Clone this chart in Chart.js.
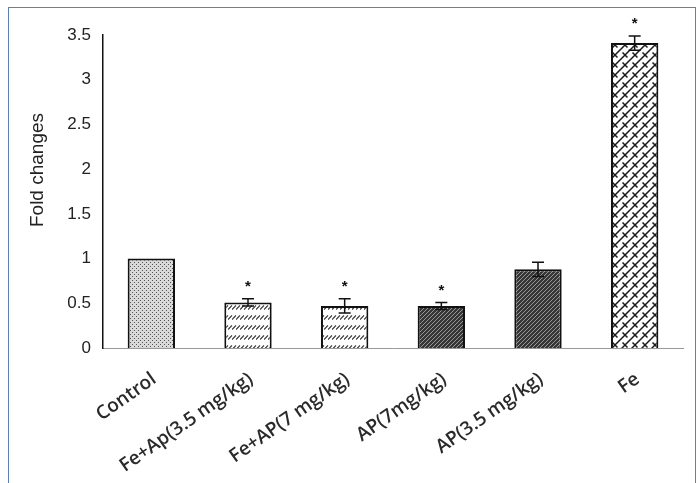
<!DOCTYPE html>
<html>
<head>
<meta charset="utf-8">
<script src="https://cdn.jsdelivr.net/npm/chart.js@4.4.1/dist/chart.umd.min.js"></script>
<style>
  html, body { margin: 0; padding: 0; background: #fff; }
  #wrap { position: relative; width: 699px; height: 483px; overflow: hidden; }
  #frame { position: absolute; left: 8px; top: 7px; width: 688px; height: 520px;
           border: 1.5px solid #5b7fc4; box-sizing: border-box; }
  #box { position: absolute; left: 0; top: 0; width: 699px; height: 483px; }
</style>
</head>
<body>
<div id="wrap">
  <div id="frame"></div>
  <div id="box"><canvas id="fold_chart"></canvas></div>
</div>
<script>
/*数据*/
var categories = ['Control', 'Fe+Ap(3.5 mg/kg)', 'Fe+AP(7 mg/kg)', 'AP(7mg/kg)', 'AP(3.5 mg/kg)', 'Fe'];
var fold_values = [1.0, 0.51, 0.47, 0.47, 0.88, 3.41];
var fold_errors = [0, 0.04, 0.08, 0.04, 0.08, 0.08];
var significant = [false, true, true, true, false, true];
var y_ticks = [0, 0.5, 1, 1.5, 2, 2.5, 3, 3.5];
var y_title = 'Fold changes';

/*填充图案*/
function make_pattern(w, h, draw) {
    var c = document.createElement('canvas');
    c.width = w; c.height = h;
    var x = c.getContext('2d');
    draw(x, w, h);
    return x.createPattern(c, 'repeat');
}
// 点状
var dots = make_pattern(4, 4, function(x, w, h) {
    x.fillStyle = '#d9d9d9'; x.fillRect(0, 0, w, h);
    x.fillStyle = '#555';
    x.fillRect(0, 0, 1, 1); x.fillRect(2, 2, 1, 1);
});
// 横带斜纹
var bands = make_pattern(4, 10, function(x, w, h) {
    x.fillStyle = '#ffffff'; x.fillRect(0, 0, w, h);
    x.strokeStyle = '#333'; x.lineWidth = 1.2;
    x.beginPath();
    x.moveTo(0, 9.5); x.lineTo(4, 5.5);
    x.moveTo(-4, 9.5); x.lineTo(0, 5.5);
    x.stroke();
});
// 深色斜纹
var dark = make_pattern(4, 4, function(x, w, h) {
    x.fillStyle = '#363636'; x.fillRect(0, 0, w, h);
    x.strokeStyle = '#b0b0b0'; x.lineWidth = 0.8;
    x.beginPath();
    x.moveTo(-1, 5); x.lineTo(5, -1);
    x.stroke();
});
// 编织纹
var weave = make_pattern(10, 10, function(x, w, h) {
    x.fillStyle = '#ffffff'; x.fillRect(0, 0, w, h);
    x.strokeStyle = '#1a1a1a'; x.lineWidth = 1.5;
    x.beginPath();
    x.moveTo(0, 10); x.lineTo(10, 0);
    x.moveTo(-5, 5); x.lineTo(5, -5);
    x.moveTo(5, 15); x.lineTo(15, 5);
    x.moveTo(2.5, 2.5); x.lineTo(7.5, 7.5);
    x.stroke();
});
var fills = [dots, bands, bands, dark, dark, weave];

/*误差线、星号、纵轴标题*/
var errorBars = {
    id: 'errorBars',
    afterDatasetsDraw: function(chart) {
        var ctx = chart.ctx;
        var ys = chart.scales.y;
        var meta = chart.getDatasetMeta(0);
        ctx.save();
        for (var i = 0; i < fold_values.length; i++) {
            var xp = meta.data[i].x;
            var top = ys.getPixelForValue(fold_values[i] + fold_errors[i]);
            var bot = ys.getPixelForValue(fold_values[i] - fold_errors[i]);
            if (fold_errors[i] > 0) {
                ctx.beginPath();
                ctx.strokeStyle = '#111';
                ctx.lineWidth = 1.5;
                ctx.moveTo(xp, top); ctx.lineTo(xp, bot);
                ctx.moveTo(xp - 6, top); ctx.lineTo(xp + 6, top);
                ctx.moveTo(xp - 6, bot); ctx.lineTo(xp + 6, bot);
                ctx.stroke();
            }
            if (significant[i]) {
                ctx.fillStyle = '#111';
                ctx.font = 'bold 15px "Liberation Sans", Arial';
                ctx.textAlign = 'center';
                ctx.textBaseline = 'middle';
                ctx.fillText('*', xp, top - 12);
            }
        }
        // 纵轴标题
        ctx.translate(38, 170);
        ctx.rotate(-Math.PI / 2);
        ctx.fillStyle = '#222';
        ctx.font = '19px "Liberation Sans", Arial';
        ctx.textAlign = 'center';
        ctx.textBaseline = 'middle';
        ctx.fillText(y_title, 0, 0);
        ctx.restore();
    }
};

var ctx = document.getElementById('fold_chart').getContext('2d');
var myChart = new Chart(ctx, {
    type: 'bar',
    data: {
        labels: categories,
        datasets: [{
            data: fold_values,
            backgroundColor: fills,
            borderColor: '#111',
            borderWidth: 2,
            barPercentage: 0.49,
            categoryPercentage: 1
        }]
    },
    options: {
        responsive: true,
        maintainAspectRatio: false,
        animation: false,
        layout: { padding: { left: 0, right: 16, top: 35, bottom: 0 } },
        plugins: {
            legend: { display: false },
            tooltip: { enabled: false }
        },
        scales: {
            x: {
                grid: { display: false, drawTicks: false },
                border: { display: true, color: '#999', width: 1 },
                ticks: {
                    color: '#2a2a2a',
                    font: { family: '"Open Sans"', size: 19, weight: '600' },
                    minRotation: 35,
                    maxRotation: 35,
                    padding: 20,
                    labelOffset: 3
                },
                afterFit: function(scale) { scale.height = 135; }
            },
            y: {
                min: 0,
                max: 3.5,
                afterBuildTicks: function(scale) {
                    scale.ticks = y_ticks.map(function(v) { return { value: v }; });
                },
                grid: { display: false, drawTicks: false },
                border: { display: true, color: '#111', width: 1.5 },
                ticks: {
                    color: '#222',
                    font: { family: '"Liberation Sans", Arial', size: 17 },
                    padding: 12,
                    callback: function(v) { return String(v); }
                },
                afterFit: function(scale) { scale.width = 103; }
            }
        }
    },
    plugins: [errorBars]
});
</script>
</body>
</html>
